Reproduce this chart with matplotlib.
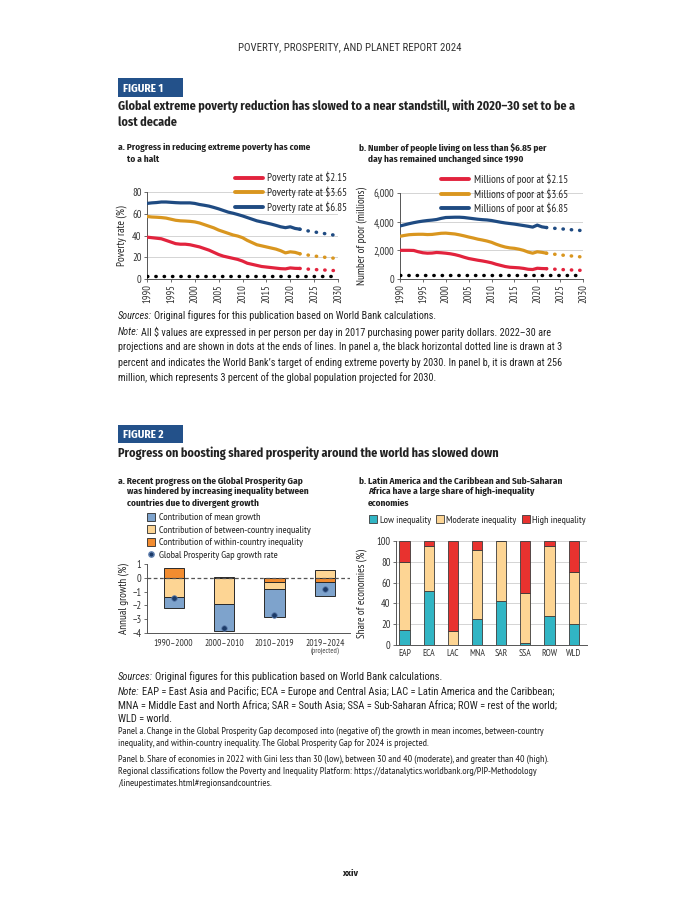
import matplotlib
matplotlib.use('Agg')
import matplotlib.pyplot as plt
from matplotlib.lines import Line2D
from matplotlib.patches import Patch, Rectangle
from matplotlib.ticker import FuncFormatter

# ---------------- data ----------------
years_hist = list(range(1990, 2023))
years_proj = list(range(2023, 2031))
year_ticks = list(range(1990, 2031, 5))

rate_215 = [38.5, 38, 37.5, 37, 35.5, 34, 32.5, 32, 32, 31.5, 30.5, 29.5, 28, 26.5, 24.5, 22.5,
            21, 20, 19, 18, 16.5, 14.5, 13.5, 12.5, 11.5, 11, 10.5, 10, 9.5, 9.3, 10.2, 9.8, 9.7]
rate_365 = [57.5, 57, 56.8, 56.5, 56, 55, 54, 53.5, 53.3, 53, 52.5, 51.5, 50, 48.5, 47, 45,
            43.5, 42, 40.5, 39.5, 38, 35.5, 33.5, 31.5, 30.5, 29.5, 28.5, 27.5, 26, 24, 25, 24.5, 23.2]
rate_685 = [69.5, 70, 70.3, 70.8, 70.8, 70.5, 70.2, 70, 70, 70, 69.5, 68.5, 67.8, 67, 65.8, 64.5,
            63, 61.5, 60.5, 59.3, 58, 56.5, 55, 53.5, 52.5, 51.5, 50.5, 49.3, 48, 47.2, 48, 46.5, 45.8]
rate_215_proj = [9.3, 9.0, 8.7, 8.5, 8.3, 8.0, 7.8, 7.5]
rate_365_proj = [22.5, 21.8, 21.2, 20.6, 20.1, 19.6, 19.2, 18.8]
rate_685_proj = [44.8, 44.0, 43.3, 42.6, 41.9, 41.2, 40.5, 39.8]
rate_target = 3

poor_215 = [2000, 2000, 2000, 1990, 1900, 1830, 1800, 1810, 1850, 1830, 1800, 1760, 1700, 1620, 1520,
            1430, 1370, 1310, 1260, 1200, 1130, 1030, 950, 870, 820, 800, 780, 740, 680, 660, 750, 730, 720]
poor_365 = [2980, 3040, 3090, 3110, 3120, 3120, 3100, 3110, 3150, 3190, 3200, 3170, 3140, 3080, 3010,
            2930, 2860, 2780, 2720, 2650, 2560, 2430, 2320, 2230, 2170, 2140, 2080, 2000, 1880, 1800,
            1900, 1860, 1800]
poor_685 = [3700, 3780, 3860, 3930, 3990, 4040, 4080, 4110, 4150, 4230, 4290, 4300, 4310, 4310, 4290,
            4250, 4210, 4170, 4140, 4120, 4080, 4020, 3960, 3910, 3870, 3830, 3780, 3730, 3680, 3620,
            3760, 3640, 3590]
poor_215_proj = [700, 680, 660, 650, 640, 620, 610, 600]
poor_365_proj = [1760, 1720, 1680, 1650, 1620, 1590, 1560, 1530]
poor_685_proj = [3560, 3530, 3500, 3480, 3450, 3420, 3400, 3370]
poor_target = 256

rate_labels = ['Poverty rate at $2.15', 'Poverty rate at $3.65', 'Poverty rate at $6.85']
poor_labels = ['Millions of poor at $2.15', 'Millions of poor at $3.65', 'Millions of poor at $6.85']

gpg_periods = ['1990–2000', '2000–2010', '2010–2019', '2019–2024']
within_ineq = [0.68, 0.03, -0.27, -0.27]
between_ineq = [-1.37, -1.88, -0.56, 0.55]
mean_growth = [-0.80, -1.97, -2.00, -1.07]
gpg_rate = [-1.48, -3.63, -2.72, -0.78]
gpg_labels = ['Contribution of mean growth', 'Contribution of between-country inequality',
              'Contribution of within-country inequality', 'Global Prosperity Gap growth rate']

regions = ['EAP', 'ECA', 'LAC', 'MNA', 'SAR', 'SSA', 'ROW', 'WLD']
share_low = [14, 52, 0, 25, 42, 2, 28, 20]
share_moderate = [66, 43, 13, 66, 58, 48, 67, 50]
share_high = [20, 5, 87, 9, 0, 50, 5, 30]
share_labels = ['Low inequality', 'Moderate inequality', 'High inequality']

# ---------------- style ----------------
CHART = ['PT Sans Narrow', 'DejaVu Sans']
NOTE = ['Roboto Condensed', 'DejaVu Sans']
HEAD = ['Fira Sans Condensed', 'DejaVu Sans']
plt.rcParams['font.family'] = CHART
plt.rcParams['axes.unicode_minus'] = True

RED, GOLD, NAVY = '#e2233d', '#d9961f', '#1f4b82'
C_MEAN, C_BETW, C_WITH, C_DOT = '#7ea3cc', '#fdd594', '#f28c30', '#1c3b68'
C_LOW, C_MOD, C_HIGH = '#31b5c4', '#fdd594', '#e8322f'
BOXBLUE = '#23518a'
SPINE = '#555555'
GRID = '#d4d4d4'
TXT = '#222222'

W, H = 700, 919
fig = plt.figure(figsize=(7, 9.19), dpi=100)
fig.patch.set_facecolor('white')
renderer = fig.canvas.get_renderer()


def add_ax(l, t, r, b):
    return fig.add_axes([l / W, 1 - b / H, (r - l) / W, (b - t) / H])


def tpx(x, y, s, **kw):
    kw.setdefault('va', 'center')
    kw.setdefault('color', TXT)
    return fig.text(x / W, 1 - y / H, s, **kw)


def width_of(s, size, **kw):
    t = fig.text(0, 0, s, fontsize=size, **kw)
    w = t.get_window_extent(renderer).width
    t.remove()
    return w


def fit(s, target, **kw):
    return 10 * target / width_of(s, 10, **kw)


def rich(x, y, prefix, rest, size, family):
    t = tpx(x, y, prefix, fontsize=size, style='italic', family=family)
    w = t.get_window_extent(renderer).width
    tpx(x + w + size * 0.3, y, rest, fontsize=size, family=family)


# ---------------- page header ----------------
hs = 'POVERTY, PROSPERITY, AND PLANET REPORT 2024'
tpx(350, 47, hs, fontsize=fit(hs, 225, family=NOTE), ha='center', color='#333333', family=NOTE)

TK = dict(fontweight='bold', family=HEAD)
for (y0, label) in [(87.5, 'FIGURE 1'), (434, 'FIGURE 2')]:
    fig.add_artist(Rectangle((118 / W, 1 - (y0 + 9.5) / H), 65 / W, 19 / H,
                             transform=fig.transFigure, facecolor=BOXBLUE, edgecolor='none'))
    tpx(123, y0 + 1, label, fontsize=fit('FIGURE 1', 40, **TK), color='white', **TK)

t1 = 'Global extreme poverty reduction has slowed to a near standstill, with 2020–30 set to be a'
tsize = fit(t1, 457, **TK)
tpx(118, 106, t1, fontsize=tsize, **TK)
tpx(118, 122, 'lost decade', fontsize=tsize, **TK)
tpx(118, 453, 'Progress on boosting shared prosperity around the world has slowed down', fontsize=tsize, **TK)

psize = fit('a. Progress in reducing extreme poverty has come', 192, **TK)


def panel_title(x, ys, lines):
    ind = width_of(lines[0][:3], psize, **TK)
    for i, (y, s) in enumerate(zip(ys, lines)):
        tpx(x + (0 if i == 0 else ind), y, s, fontsize=psize, **TK)


panel_title(118, [148, 159], ['a. Progress in reducing extreme poverty has come', 'to a halt'])
panel_title(359, [148, 159], ['b. Number of people living on less than $6.85 per',
                              'day has remained unchanged since 1990'])
panel_title(118, [481, 492, 503], ['a. Recent progress on the Global Prosperity Gap',
                                   'was hindered by increasing inequality between',
                                   'countries due to divergent growth'])
panel_title(359, [481, 492, 503], ['b. Latin America and the Caribbean and Sub-Saharan',
                                   'Africa have a large share of high-inequality', 'economies'])

tick_size = fit('1990', 19)
leg_size = fit('Poverty rate at $6.85', 80)
leg2_size = fit('Contribution of between-country inequality', 152)
lab_size = leg_size


def style_axes(ax):
    for s in ['top', 'right']:
        ax.spines[s].set_visible(False)
    for s in ['left', 'bottom']:
        ax.spines[s].set_color(SPINE)
        ax.spines[s].set_linewidth(0.7)
    ax.tick_params(labelsize=tick_size, length=2.5, width=0.6, color=SPINE, pad=1.5, labelcolor='#333333')
    ax.set_axisbelow(True)


DOTS = (0, (0.1, 2.3))


def line_panel(ax, hist, proj, labels, target, ylim, yticks, ylabel, ylab_x, leg_x):
    handles = []
    for vals, pv, col, lab in zip(hist, proj, [RED, GOLD, NAVY], labels):
        ax.plot(years_hist, vals, color=col, lw=2.3, solid_capstyle='round', zorder=3)
        ax.plot([years_hist[-1]] + years_proj, [vals[-1]] + pv, color=col, lw=2.5,
                linestyle=DOTS, dash_capstyle='round', zorder=3)
        handles.append(Line2D([], [], color=col, lw=2.8, solid_capstyle='round', label=lab))
    ax.axhline(target, color='black', lw=2.5, linestyle=(0, (0.1, 2.3)), dash_capstyle='round', zorder=4)
    ax.set_xlim(1990, 2030)
    ax.set_ylim(*ylim)
    ax.set_xticks(year_ticks)
    ax.set_xticklabels([str(y) for y in year_ticks], rotation=90)
    ax.set_yticks(yticks)
    ax.grid(axis='y', color=GRID, lw=0.7)
    style_axes(ax)
    ax.set_ylabel(ylabel, fontsize=lab_size, color=TXT)
    ax.yaxis.set_label_coords(ylab_x, 0.5)
    leg = ax.legend(handles=handles, loc='upper right', bbox_to_anchor=(leg_x, 1.23),
                    frameon=False, fontsize=leg_size, handlelength=2.6, handletextpad=0.4,
                    labelspacing=0.3, borderpad=0, borderaxespad=0)
    for t in leg.get_texts():
        t.set_color(TXT)


ax1 = add_ax(147, 192, 338, 279)
line_panel(ax1, [rate_215, rate_365, rate_685], [rate_215_proj, rate_365_proj, rate_685_proj],
           rate_labels, rate_target, (0, 80), [0, 20, 40, 60, 80], 'Poverty rate (%)', -0.105, 1.05)

ax2 = add_ax(400, 193, 583, 279)
line_panel(ax2, [poor_215, poor_365, poor_685], [poor_215_proj, poor_365_proj, poor_685_proj],
           poor_labels, poor_target, (0, 6000), [0, 2000, 4000, 6000], 'Number of poor (millions)', -0.18, 0.918)
ax2.yaxis.set_major_formatter(FuncFormatter(lambda v, p: f'{v:,.0f}'))

# ---------------- notes, figure 1 ----------------
n1 = 'percent and indicates the World Bank’s target of ending extreme poverty by 2030. In panel b, it is drawn at 256'
nsize = fit(n1, 441, family=NOTE)
rich(118, 316, 'Sources:', 'Original figures for this publication based on World Bank calculations.', nsize, NOTE)
rich(118, 332, 'Note:', 'All $ values are expressed in per person per day in 2017 purchasing power parity dollars. 2022–30 are', nsize, NOTE)
tpx(118, 347, 'projections and are shown in dots at the ends of lines. In panel a, the black horizontal dotted line is drawn at 3', fontsize=nsize, family=NOTE)
tpx(118, 363, n1, fontsize=nsize, family=NOTE)
tpx(118, 378, 'million, which represents 3 percent of the global population projected for 2030.', fontsize=nsize, family=NOTE)

# ---------------- figure 2a ----------------
ax3 = add_ax(147, 564, 350, 633)
x3 = list(range(len(gpg_periods)))
pos = [0.0] * len(x3)
neg = [0.0] * len(x3)
for comp, col in [(within_ineq, C_WITH), (between_ineq, C_BETW), (mean_growth, C_MEAN)]:
    bottoms = []
    for i, v in enumerate(comp):
        if v >= 0:
            bottoms.append(pos[i]); pos[i] += v
        else:
            bottoms.append(neg[i]); neg[i] += v
    ax3.bar(x3, comp, bottom=bottoms, width=0.4, color=col, edgecolor='#2a2a2a', lw=0.7, zorder=2)
ax3.scatter(x3, gpg_rate, s=16, color=C_DOT, edgecolor='#5f7fae', lw=0.6, zorder=5)
ax3.axhline(0, color='#555555', lw=0.9, linestyle=(0, (3, 2)), zorder=3)
ax3.set_xlim(-0.53, 3.5)
ax3.set_ylim(-4, 1)
ax3.set_yticks([-4, -3, -2, -1, 0, 1])
ax3.set_xticks(x3)
style_axes(ax3)
cat_size = fit('1990–2000', 39)
ax3.set_xticklabels(gpg_periods, fontsize=cat_size)
ax3.tick_params(axis='x', length=0, pad=4)
ax3.text(3, -0.27, '(projected)', transform=ax3.get_xaxis_transform(), ha='center', va='center',
         fontsize=cat_size * 0.82, color='#444444')
ax3.set_ylabel('Annual growth (%)', fontsize=lab_size, color=TXT)
ax3.yaxis.set_label_coords(-0.089, 0.5)
h3 = [Patch(facecolor=C_MEAN, edgecolor='#2a2a2a', lw=0.6, label=gpg_labels[0]),
      Patch(facecolor=C_BETW, edgecolor='#2a2a2a', lw=0.6, label=gpg_labels[1]),
      Patch(facecolor=C_WITH, edgecolor='#2a2a2a', lw=0.6, label=gpg_labels[2]),
      Line2D([], [], marker='o', linestyle='none', color=C_DOT, markeredgecolor='#5f7fae',
             markersize=3.8, label=gpg_labels[3])]
leg3 = fig.legend(handles=h3, loc='upper left', bbox_to_anchor=(146.5 / W, 1 - 513 / H),
                  frameon=False, fontsize=leg2_size, handlelength=0.8, handleheight=0.8,
                  handletextpad=0.4, labelspacing=0.3, borderpad=0, borderaxespad=0)
for t in leg3.get_texts():
    t.set_color(TXT)

# ---------------- figure 2b ----------------
ax4 = add_ax(396, 541, 587, 645)
x4 = list(range(len(regions)))
b_mod = share_low
b_high = [a + b for a, b in zip(share_low, share_moderate)]
ax4.bar(x4, share_low, width=0.42, color=C_LOW, edgecolor='#3a3a3a', lw=0.6, zorder=2)
ax4.bar(x4, share_moderate, bottom=b_mod, width=0.42, color=C_MOD, edgecolor='#3a3a3a', lw=0.6, zorder=2)
ax4.bar(x4, share_high, bottom=b_high, width=0.42, color=C_HIGH, edgecolor='#3a3a3a', lw=0.6, zorder=2)
ax4.set_xlim(-0.35, 7.55)
ax4.set_ylim(0, 100)
ax4.set_yticks([0, 20, 40, 60, 80, 100])
ax4.set_xticks(x4)
style_axes(ax4)
ax4.set_xticklabels(regions, fontsize=cat_size)
ax4.tick_params(axis='x', length=0, pad=3)
ax4.grid(axis='y', color=GRID, lw=0.7)
ax4.set_ylabel('Share of economies (%)', fontsize=lab_size, color=TXT)
ax4.yaxis.set_label_coords(-0.152, 0.5)
h4 = [Patch(facecolor=c, edgecolor='#3a3a3a', lw=0.6, label=l) for c, l in zip([C_LOW, C_MOD, C_HIGH], share_labels)]
leg4 = fig.legend(handles=h4, loc='center left', bbox_to_anchor=(369 / W, 1 - 520 / H), ncol=3,
                  frameon=False, fontsize=leg2_size, handlelength=0.8, handleheight=0.8,
                  handletextpad=0.25, columnspacing=0.5, borderpad=0, borderaxespad=0)
for t in leg4.get_texts():
    t.set_color(TXT)

# ---------------- notes, figure 2 ----------------
m1 = 'MNA = Middle East and North Africa; SAR = South Asia; SSA = Sub-Saharan Africa; ROW = rest of the world;'
msize = fit(m1, 437, family=NOTE)
rich(118, 677, 'Sources:', 'Original figures for this publication based on World Bank calculations.', msize, NOTE)
rich(118, 692, 'Note:', 'EAP = East Asia and Pacific; ECA = Europe and Central Asia; LAC = Latin America and the Caribbean;', msize, NOTE)
tpx(118, 707, m1, fontsize=msize, family=NOTE)
tpx(118, 719, 'WLD = world.', fontsize=msize, family=NOTE)
p1 = 'Panel b. Share of economies in 2022 with Gini less than 30 (low), between 30 and 40 (moderate), and greater than 40 (high).'
ssize = fit(p1, 429, family=CHART)
tpx(118, 731, 'Panel a. Change in the Global Prosperity Gap decomposed into (negative of) the growth in mean incomes, between-country', fontsize=ssize, family=CHART)
tpx(118, 743, 'inequality, and within-country inequality. The Global Prosperity Gap for 2024 is projected.', fontsize=ssize, family=CHART)
tpx(118, 759, p1, fontsize=ssize, family=CHART)
tpx(118, 771, 'Regional classifications follow the Poverty and Inequality Platform: https://datanalytics.worldbank.org/PIP-Methodology', fontsize=ssize, family=CHART)
tpx(118, 783, '/lineupestimates.html#regionsandcountries.', fontsize=ssize, family=CHART)

tpx(350, 873, 'xxiv', fontsize=fit('xxiv', 16, **TK), ha='center', **TK)

fig.savefig('out.png', dpi=100, facecolor='white')
